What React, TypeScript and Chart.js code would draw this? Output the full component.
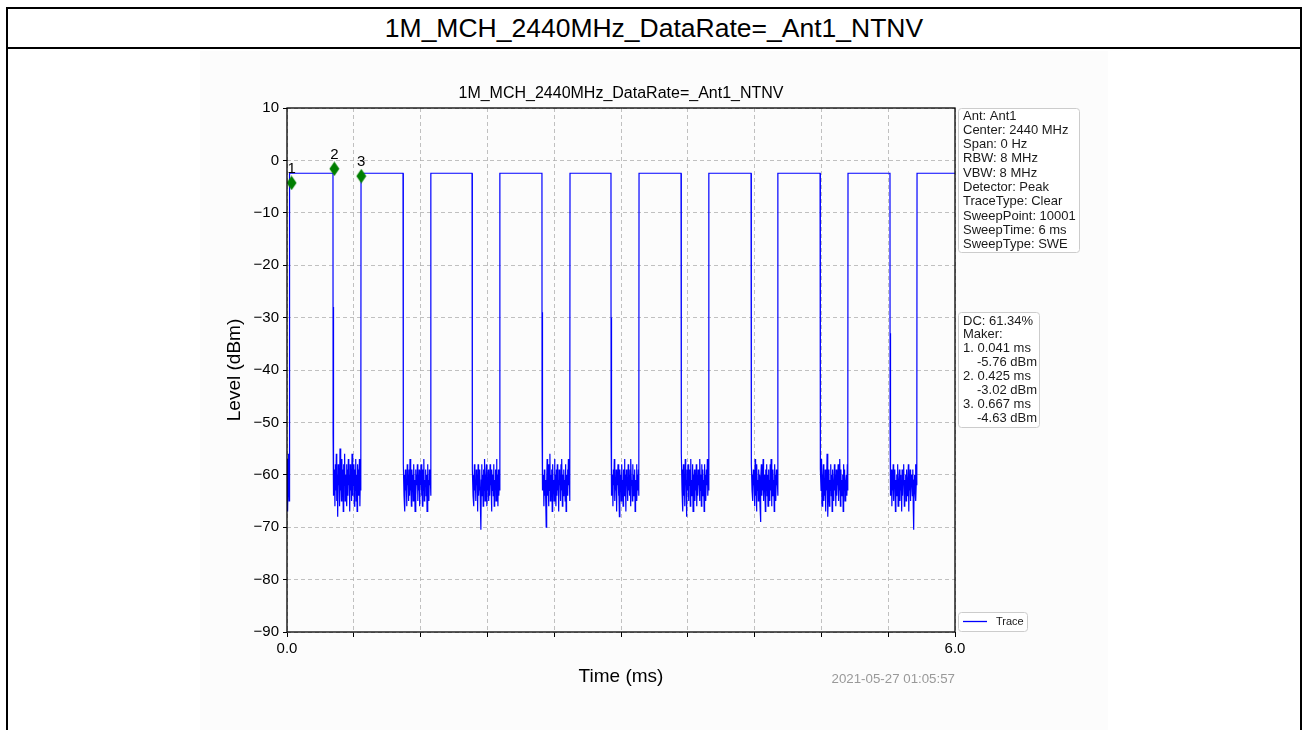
import React, { useEffect, useRef } from "react";
import { Chart, registerables } from "chart.js";

Chart.register(...registerables);

const FONT = '"Liberation Sans", Arial, Helvetica, sans-serif';

const pageTitle = "1M_MCH_2440MHz_DataRate=_Ant1_NTNV";
const chartTitle = "1M_MCH_2440MHz_DataRate=_Ant1_NTNV";
const xAxisTitle = "Time (ms)";
const yAxisTitle = "Level (dBm)";
const timestamp = "2021-05-27 01:05:57";

const xMin = 0;
const xMax = 6;
const xStep = 0.6;
const xTickLabels: Record<string, string> = { "0": "0.0", "6": "6.0" };
const yMin = -90;
const yMax = 10;
const yStep = 10;

// pulse edges (ms)
const riseTimes = [0.025, 0.665, 1.293, 1.913, 2.542, 3.162, 3.79, 4.41, 5.039, 5.659];
const fallTimes = [0.413, 1.042, 1.662, 2.29, 2.91, 3.539, 4.168, 4.788, 5.416];
// plateau level of each pulse (dBm)
const pulseLevels = [-2.45, -2.45, -2.45, -2.45, -2.45, -2.45, -2.45, -2.45, -2.45, -2.45];
// trace right after each falling edge (dBm)
const fallFloor = [-52, -51, -52, -51, -52, -51, -52, -51, -52];
const fallSpikes = [-28, -28, -30, -29, -30, -30, -30, -30, -33];

// noise before first pulse
const leadNoise = [-62, -57, -66, -59, -67, -60, -56, -64, -58, -65, -47, -43];

// noise inside each off gap
const gapNoise = [
  [-57, -64, -59, -66, -58, -63, -56, -65, -60, -68, -58, -62, -59, -66, -55, -63, -60, -65, -57, -64, -59, -67, -58, -62, -56, -65, -60, -63, -58, -66, -59, -64, -57, -62, -60, -67, -58, -63, -59, -65, -56, -64, -60, -62, -58, -66, -59, -63, -57, -65, -60, -67, -58, -62, -59, -64, -57, -66, -60, -63],
  [-58, -64, -60, -67, -59, -63, -61, -66, -58, -62, -60, -65, -59, -64, -57, -63, -61, -66, -59, -62, -60, -65, -58, -63, -61, -67, -59, -64, -60, -62, -58, -65, -60, -63, -59, -66, -61, -62, -58, -64, -60, -66, -59, -63, -57, -65, -61, -62, -59, -64, -60, -67, -58, -63, -61, -65, -59, -62, -60, -64],
  [-59, -64, -60, -66, -58, -63, -61, -65, -59, -62, -60, -67, -58, -64, -61, -63, -59, -66, -70.5, -61, -58, -64, -60, -66, -59, -63, -57, -65, -60, -62, -58, -66, -61, -63, -59, -65, -60, -64, -58, -62, -61, -67, -59, -63, -60, -64, -58, -66, -61, -62, -59, -65, -57, -63, -60, -66, -59, -64, -61, -63],
  [-58, -63, -60, -66, -59, -64, -61, -65, -70, -62, -57, -64, -60, -66, -58, -63, -56, -65, -60, -62, -59, -67, -58, -63, -61, -65, -57, -62, -60, -66, -59, -64, -58, -63, -61, -67, -59, -62, -60, -65, -58, -63, -57, -66, -60, -64, -59, -62, -61, -65, -58, -67, -60, -63, -59, -64, -57, -62, -60, -65],
  [-58, -64, -60, -66, -59, -62, -57, -65, -61, -63, -59, -67, -60, -62, -58, -64, -61, -68, -59, -63, -60, -65, -58, -62, -61, -66, -59, -64, -57, -63, -60, -67, -59, -62, -61, -65, -58, -63, -60, -64, -59, -66, -57, -62, -61, -65, -58, -64, -60, -63, -59, -67, -61, -62, -58, -65, -60, -63, -59, -64],
  [-56, -63, -59, -67, -58, -64, -60, -66, -57, -62, -61, -68, -59, -63, -58, -65, -60, -62, -59, -66, -57, -64, -61, -63, -58, -67, -60, -62, -59, -65, -61, -63, -58, -66, -60, -64, -59, -62, -61, -65, -57, -63, -60, -66, -58, -64, -59, -62, -61, -67, -58, -63, -60, -65, -59, -62, -57, -64, -60, -63],
  [-58, -63, -60, -65, -59, -62, -61, -66, -57, -64, -60, -67, -58, -63, -61, -65, -59, -62, -60, -66, -69, -61, -58, -64, -59, -63, -57, -65, -60, -62, -61, -67, -59, -63, -58, -64, -60, -66, -59, -62, -61, -65, -58, -63, -57, -66, -60, -64, -59, -62, -61, -67, -58, -63, -60, -65, -59, -62, -61, -64],
  [-59, -63, -57, -66, -60, -62, -58, -65, -61, -64, -59, -67, -60, -63, -56, -65, -68, -62, -59, -66, -61, -63, -58, -64, -60, -67, -59, -62, -61, -65, -58, -63, -60, -66, -59, -64, -61, -62, -58, -65, -60, -63, -57, -66, -59, -64, -61, -62, -60, -67, -58, -63, -59, -65, -61, -62, -60, -64, -58, -63],
  [-60, -64, -59, -66, -61, -63, -58, -65, -60, -62, -59, -67, -61, -64, -60, -63, -58, -66, -61, -62, -59, -65, -60, -63, -61, -67, -59, -64, -60, -62, -58, -66, -61, -63, -60, -65, -59, -64, -61, -62, -58, -67, -60, -63, -59, -65, -61, -62, -60, -64, -59, -66, -70.5, -61, -60, -63, -58, -65, -61, -62],
];

// markers
const markerNames = ["1", "2", "3"];
const markerTimes = [0.041, 0.425, 0.667];
const markerLevels = [-4.3, -1.6, -3.0];

const infoLines = [
  "Ant: Ant1",
  "Center: 2440 MHz",
  "Span: 0 Hz",
  "RBW: 8 MHz",
  "VBW: 8 MHz",
  "Detector: Peak",
  "TraceType: Clear",
  "SweepPoint: 10001",
  "SweepTime: 6 ms",
  "SweepType: SWE",
];
const dcLines: [string, boolean][] = [
  ["DC: 61.34%", false],
  ["Maker:", false],
  ["1. 0.041 ms", false],
  ["-5.76 dBm", true],
  ["2. 0.425 ms", false],
  ["-3.02 dBm", true],
  ["3. 0.667 ms", false],
  ["-4.63 dBm", true],
];
const legendLabel = "Trace";

function buildTrace() {
  const pts: { x: number; y: number }[] = [];
  const leadEnd = riseTimes[0] - 0.002;
  leadNoise.forEach((v, i) => pts.push({ x: (leadEnd * i) / (leadNoise.length - 1), y: v }));
  for (let k = 0; k < riseTimes.length; k++) {
    pts.push({ x: riseTimes[k], y: pulseLevels[k] });
    if (k < fallTimes.length) {
      const f = fallTimes[k];
      pts.push({ x: f, y: pulseLevels[k] });
      pts.push({ x: f + 0.001, y: fallFloor[k] });
      pts.push({ x: f + 0.002, y: fallSpikes[k] });
      pts.push({ x: f + 0.003, y: fallFloor[k] - 3 });
      const noise = gapNoise[k];
      const s = f + 0.005;
      const e = riseTimes[k + 1] - 0.002;
      noise.forEach((v, i) => pts.push({ x: s + ((e - s) * i) / (noise.length - 1), y: v }));
    } else {
      pts.push({ x: xMax, y: pulseLevels[k] });
    }
  }
  return pts;
}

function roundRect(ctx: CanvasRenderingContext2D, x: number, y: number, w: number, h: number, r: number) {
  ctx.beginPath();
  ctx.moveTo(x + r, y);
  ctx.lineTo(x + w - r, y);
  ctx.arcTo(x + w, y, x + w, y + r, r);
  ctx.lineTo(x + w, y + h - r);
  ctx.arcTo(x + w, y + h, x + w - r, y + h, r);
  ctx.lineTo(x + r, y + h);
  ctx.arcTo(x, y + h, x, y + h - r, r);
  ctx.lineTo(x, y + r);
  ctx.arcTo(x, y, x + r, y, r);
  ctx.closePath();
}

export default function App() {
  const ref = useRef<HTMLCanvasElement | null>(null);

  useEffect(() => {
    if (!ref.current) return;

    const diamond = document.createElement("canvas");
    diamond.width = 11;
    diamond.height = 15;
    const dctx = diamond.getContext("2d")!;
    dctx.fillStyle = "#007f00";
    dctx.beginPath();
    dctx.moveTo(5.5, 0.3);
    dctx.lineTo(10.5, 7.5);
    dctx.lineTo(5.5, 14.7);
    dctx.lineTo(0.5, 7.5);
    dctx.closePath();
    dctx.fill();

    const overlay = {
      id: "overlay",
      afterDatasetsDraw(chart: any) {
        const ctx: CanvasRenderingContext2D = chart.ctx;
        const meta = chart.getDatasetMeta(1);
        ctx.save();
        ctx.fillStyle = "#000";
        ctx.font = `15px ${FONT}`;
        ctx.textAlign = "center";
        ctx.textBaseline = "middle";
        meta.data.forEach((el: any, i: number) => {
          ctx.fillText(markerNames[i], el.x, el.y - 14);
        });
        ctx.restore();
      },
      afterDraw(chart: any) {
        const ctx: CanvasRenderingContext2D = chart.ctx;
        const a = chart.chartArea;
        ctx.save();
        // frame
        ctx.strokeStyle = "#000";
        ctx.lineWidth = 1.3;
        ctx.strokeRect(a.left, a.top, a.right - a.left, a.bottom - a.top);
        // chart title
        ctx.fillStyle = "#000";
        ctx.font = `16px ${FONT}`;
        ctx.textAlign = "center";
        ctx.textBaseline = "middle";
        ctx.fillText(chartTitle, (a.left + a.right) / 2, 94);
        // axis titles
        ctx.font = `19px ${FONT}`;
        ctx.fillText(xAxisTitle, (a.left + a.right) / 2, 677);
        ctx.save();
        ctx.translate(235, (a.top + a.bottom) / 2);
        ctx.rotate(-Math.PI / 2);
        ctx.fillText(yAxisTitle, 0, 0);
        ctx.restore();
        // timestamp
        ctx.fillStyle = "#999";
        ctx.font = `13.3px ${FONT}`;
        ctx.textAlign = "right";
        ctx.fillText(timestamp, a.right, 679);

        // info box
        const bx = a.right + 3;
        ctx.fillStyle = "#fff";
        ctx.strokeStyle = "#cccccc";
        ctx.lineWidth = 1;
        roundRect(ctx, bx + 0.5, 108.5, 121, 144, 3);
        ctx.fill();
        ctx.stroke();
        ctx.fillStyle = "#1a1a1a";
        ctx.font = `13px ${FONT}`;
        ctx.textAlign = "left";
        infoLines.forEach((t, i) => ctx.fillText(t, bx + 5, 116 + i * 14.3));

        // DC box
        ctx.fillStyle = "#fff";
        roundRect(ctx, bx + 0.5, 312.5, 81, 115, 3);
        ctx.fill();
        ctx.stroke();
        ctx.fillStyle = "#1a1a1a";
        dcLines.forEach(([t, indent], i) => ctx.fillText(t, bx + 5 + (indent ? 14 : 0), 321 + i * 13.9));

        // legend
        ctx.fillStyle = "#fff";
        roundRect(ctx, bx + 0.5, 612.5, 69, 19, 3);
        ctx.fill();
        ctx.stroke();
        ctx.strokeStyle = "#0000ff";
        ctx.lineWidth = 1.3;
        ctx.beginPath();
        ctx.moveTo(bx + 5, 621.5);
        ctx.lineTo(bx + 29, 621.5);
        ctx.stroke();
        ctx.fillStyle = "#1a1a1a";
        ctx.font = `11px ${FONT}`;
        ctx.fillText(legendLabel, bx + 38, 622);
        ctx.restore();
      },
    };

    const chart = new Chart(ref.current, {
      type: "line",
      data: {
        datasets: [
          {
            label: legendLabel,
            data: buildTrace(),
            borderColor: "#0000ff",
            borderWidth: 1.2,
            pointRadius: 0,
            tension: 0,
            fill: false,
            order: 2,
          } as any,
          {
            label: "Markers",
            type: "scatter",
            data: markerTimes.map((t, i) => ({ x: t, y: markerLevels[i] })),
            pointStyle: diamond,
            pointRadius: 6,
            backgroundColor: "#007f00",
            borderColor: "#007f00",
            showLine: false,
            order: 1,
          } as any,
        ],
      },
      options: {
        responsive: false,
        animation: false,
        events: [],
        layout: { padding: { left: 200, top: 108, right: 353, bottom: 58 } },
        plugins: {
          legend: { display: false },
          tooltip: { enabled: false },
          title: { display: false },
        },
        scales: {
          x: {
            type: "linear",
            min: xMin,
            max: xMax,
            afterFit: (s: any) => {
              s.height = 40;
            },
            ticks: {
              stepSize: xStep,
              autoSkip: false,
              maxRotation: 0,
              padding: 3,
              color: "#000",
              font: { family: FONT, size: 15 },
              callback: (v: any) => {
                const key = String(Math.round(Number(v) * 1000) / 1000);
                return xTickLabels[key] ?? "";
              },
            },
            grid: {
              color: "#b0b0b0",
              lineWidth: 0.8,
              borderDash: [4, 3],
              tickLength: 5,
              tickColor: "#000",
              tickWidth: 1,
              tickBorderDash: [],
            } as any,
            border: { display: false, dash: [4, 3] },
          },
          y: {
            type: "linear",
            min: yMin,
            max: yMax,
            afterFit: (s: any) => {
              s.width = 87;
            },
            ticks: {
              stepSize: yStep,
              autoSkip: false,
              padding: 4,
              color: "#000",
              font: { family: FONT, size: 15 },
              callback: (v: any) => String(v).replace("-", "\u2212"),
            },
            grid: {
              color: "#b0b0b0",
              lineWidth: 0.8,
              borderDash: [4, 3],
              tickLength: 4,
              tickColor: "#000",
              tickWidth: 1,
              tickBorderDash: [],
            } as any,
            border: { display: false, dash: [4, 3] },
          },
        },
      },
      plugins: [overlay],
    });

    return () => chart.destroy();
  }, []);

  return (
    <div
      style={{
        position: "absolute",
        left: 0,
        top: 0,
        width: 1308,
        height: 730,
        overflow: "hidden",
        background: "#fff",
      }}
    >
      <div
        style={{
          position: "absolute",
          left: 6,
          top: 7,
          width: 1292,
          height: 800,
          border: "2px solid #000",
        }}
      />
      <div style={{ position: "absolute", left: 8, top: 47, width: 1292, height: 2, background: "#000" }} />
      <div
        style={{
          position: "absolute",
          left: 8,
          top: 9,
          width: 1292,
          height: 38,
          display: "flex",
          alignItems: "center",
          justifyContent: "center",
          font: `26.5px ${FONT}`,
          color: "#000",
        }}
      >
        {pageTitle}
      </div>
      <div
        style={{
          position: "absolute",
          left: 200,
          top: 51,
          width: 908,
          height: 679,
          background: "#fcfcfc",
        }}
      />
      <canvas
        ref={ref}
        width={1308}
        height={730}
        style={{ position: "absolute", left: 0, top: 0, width: 1308, height: 730 }}
      />
    </div>
  );
}
